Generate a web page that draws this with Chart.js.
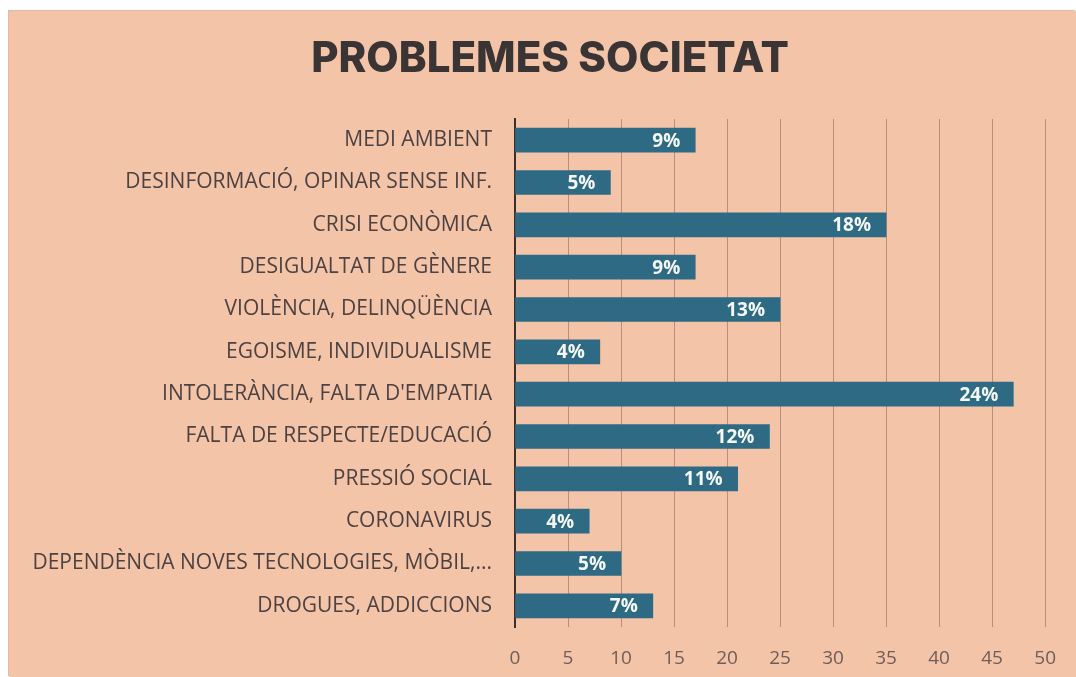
<!DOCTYPE html>
<html>
<head>
<meta charset="utf-8">
<script src="https://cdn.jsdelivr.net/npm/chart.js@4.4.1/dist/chart.umd.min.js"></script>
<style>
  html, body { margin: 0; padding: 0; background: #ffffff; }
  #panel {
    position: absolute; left: 9px; top: 11px;
    width: 1067px; height: 666px;
    background: #f4c4a9;
    box-shadow: -1px -1px 0 #e2b9a6;
  }
  #chart { display: block; }
</style>
</head>
<body>
<div id="panel"><canvas id="chart" width="1067" height="666"></canvas></div>
<script>
// Problemes de la societat: respostes per categoria
const chartTitle = 'PROBLEMES SOCIETAT';
const categories = [
    'MEDI AMBIENT',
    'DESINFORMACIÓ, OPINAR SENSE INF.',
    'CRISI ECONÒMICA',
    'DESIGUALTAT DE GÈNERE',
    'VIOLÈNCIA, DELINQÜÈNCIA',
    'EGOISME, INDIVIDUALISME',
    'INTOLERÀNCIA, FALTA D\'EMPATIA',
    'FALTA DE RESPECTE/EDUCACIÓ',
    'PRESSIÓ SOCIAL',
    'CORONAVIRUS',
    'DEPENDÈNCIA NOVES TECNOLOGIES, MÒBIL,...',
    'DROGUES, ADDICCIONS'
];
const respostes = [17, 9, 35, 17, 25, 8, 47, 24, 21, 7, 10, 13];
const totalRespostes = 196;
const xTicks = [0, 5, 10, 15, 20, 25, 30, 35, 40, 45, 50];

// Títol centrat una mica a la dreta del centre del llenç
const titleText = {
    id: 'titleText',
    afterDraw(chart) {
        const ctx = chart.ctx;
        ctx.save();
        ctx.font = '800 42px Inter, "Open Sans", sans-serif';
        ctx.fillStyle = '#3a3434';
        ctx.textAlign = 'center';
        ctx.textBaseline = 'middle';
        ctx.fillText(chartTitle, 541, 48);
        ctx.restore();
    }
};

// Percentatge escrit dins de cada barra
const percentLabels = {
    id: 'percentLabels',
    afterDatasetsDraw(chart) {
        const ctx = chart.ctx;
        const meta = chart.getDatasetMeta(0);
        ctx.save();
        ctx.font = 'bold 19px "Open Sans", sans-serif';
        ctx.fillStyle = '#f4f8fa';
        ctx.textAlign = 'right';
        ctx.textBaseline = 'middle';
        meta.data.forEach((bar, i) => {
            const pct = Math.round(respostes[i] / totalRespostes * 100) + '%';
            ctx.fillText(pct, bar.x - 15, bar.y + 1);
        });
        ctx.restore();
    }
};

const ctx = document.getElementById('chart').getContext('2d');
new Chart(ctx, {
    type: 'bar',
    data: {
        labels: categories,
        datasets: [{
            data: respostes,
            backgroundColor: '#2f6a85',
            borderWidth: 0,
            barThickness: 24
        }]
    },
    options: {
        indexAxis: 'y',
        responsive: false,
        animation: false,
        layout: { padding: { left: 0, right: 27, top: 108, bottom: 10 } },
        plugins: {
            legend: { display: false },
            tooltip: { enabled: false },
            title: { display: false }
        },
        scales: {
            x: {
                min: 0,
                max: 50,
                afterBuildTicks(scale) {
                    scale.ticks = xTicks.map(v => ({ value: v }));
                },
                afterFit(scale) { scale.height = 40; },
                grid: {
                    color: 'rgba(150, 105, 88, 0.6)',
                    lineWidth: 1,
                    drawTicks: false
                },
                border: { display: false },
                ticks: {
                    color: '#6e5d58',
                    padding: 20,
                    font: { family: '"Open Sans", sans-serif', size: 19 }
                }
            },
            y: {
                afterFit(scale) { scale.width = 506; },
                grid: { display: false },
                border: { display: true, color: '#3b2f2c', width: 2 },
                ticks: {
                    color: '#4d4242',
                    padding: 15,
                    autoSkip: false,
                    font: { family: '"Open Sans", sans-serif', size: 21 }
                }
            }
        }
    },
    plugins: [percentLabels, titleText]
});
</script>
</body>
</html>
